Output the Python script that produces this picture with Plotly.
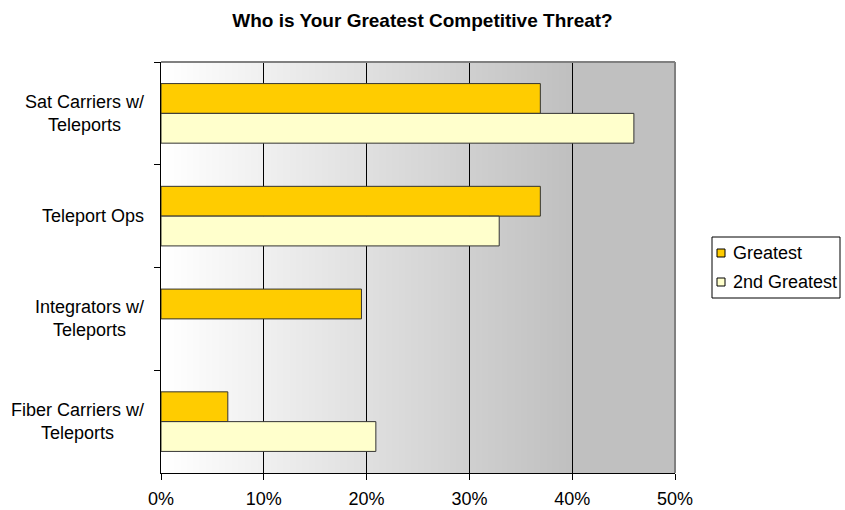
import plotly.graph_objects as go

categories = ["Sat Carriers w/<br>Teleports", "Teleport Ops", "Integrators w/<br>Teleports", "Fiber Carriers w/<br>Teleports"]
series_names = ["Greatest", "2nd Greatest"]
greatest = [36.9, 36.9, 19.5, 6.5]
second_greatest = [46.0, 32.9, None, 20.9]
x_ticks = [0, 10, 20, 30, 40, 50]
x_tick_labels = ["0%", "10%", "20%", "30%", "40%", "50%"]

FONT = "Liberation Sans, Arial, sans-serif"
colors = ["#FFCC00", "#FFFFCC"]
outline = "#333333"

W, H = 845, 510

fig = go.Figure()
for name, vals, col in zip(series_names, [greatest, second_greatest], colors):
    fig.add_trace(go.Bar(
        y=categories, x=vals, orientation="h", name=name, showlegend=False,
        marker=dict(color=col, line=dict(color=outline, width=1)),
    ))

# gradient background strips
shapes = []
N = 80
for i in range(N):
    f0 = i / N
    f1 = (i + 1) / N
    fm = (f0 + f1) / 2
    v = int(round(255 - 63 * min(fm / 0.8, 1.0)))
    col = f"rgb({v},{v},{v})"
    shapes.append(dict(type="rect", xref="paper", yref="paper", x0=f0, x1=min(f1 + 0.002, 1), y0=0, y1=1,
                       fillcolor=col, line=dict(width=0), layer="below"))
# top and right borders (gray)
shapes.append(dict(type="line", xref="paper", yref="paper", x0=0, x1=1, y0=1, y1=1,
                   line=dict(color="#808080", width=2), layer="above"))
shapes.append(dict(type="line", xref="paper", yref="paper", x0=1, x1=1, y0=0, y1=1,
                   line=dict(color="#808080", width=2), layer="above"))

# plot area in window pixels
PL, PR, PT, PB = 161, 675, 62, 473
def px(x):
    return (x - PL) / (PR - PL)
def py(y):
    return (PB - y) / (PB - PT)

# custom legend
shapes.append(dict(type="rect", xref="paper", yref="paper", x0=px(712), x1=px(840), y0=py(298), y1=py(237),
                   fillcolor="white", line=dict(color="#000000", width=1), layer="above"))
annotations = []
for i, (name, col) in enumerate(zip(series_names, colors)):
    yc = 253 + 29 * i
    shapes.append(dict(type="rect", xref="paper", yref="paper", x0=px(717), x1=px(725),
                       y0=py(yc + 4), y1=py(yc - 4), fillcolor=col,
                       line=dict(color="#000000", width=1), layer="above"))
    annotations.append(dict(x=px(731), y=py(yc), xref="paper", yref="paper", text=name,
                            showarrow=False, xanchor="left", yanchor="middle",
                            font=dict(family=FONT, size=18, color="#000000")))

for c in categories:
    annotations.append(dict(x=0, xref="paper", xshift=-15, y=c, yref="y", text=c,
                            showarrow=False, xanchor="right", align="center",
                            font=dict(family=FONT, size=18, color="#000000")))

fig.update_layout(
    width=W, height=H,
    margin=dict(l=PL, r=W - PR, t=PT, b=H - PB, autoexpand=False),
    paper_bgcolor="white", plot_bgcolor="white",
    showlegend=False,
    title=dict(text="<b>Who is Your Greatest Competitive Threat?</b>", x=0.5, xanchor="center",
               y=1 - 20 / H, yanchor="middle", font=dict(family=FONT, size=19, color="#000000")),
    barmode="group", bargap=0.42, bargroupgap=0,
    shapes=shapes, annotations=annotations,
    xaxis=dict(range=[0, 50], tickvals=x_ticks, ticktext=x_tick_labels,
               showgrid=True, gridcolor="#000000", gridwidth=1,
               showline=True, linecolor="#000000", linewidth=1,
               ticks="outside", ticklen=6, tickcolor="#000000", ticklabelstandoff=3,
               tickfont=dict(family=FONT, size=18, color="#000000"), zeroline=False, fixedrange=True),
    yaxis=dict(autorange="reversed", showticklabels=False, showline=True, linecolor="#000000", linewidth=1,
               ticks="outside", ticklen=6, tickcolor="#000000", tickson="boundaries",
               showgrid=False, fixedrange=True),
)

fig.write_html(
    "out.html",
    config={"displayModeBar": False},
    post_script="document.body.style.margin='0';document.body.style.overflow='hidden';",
)
